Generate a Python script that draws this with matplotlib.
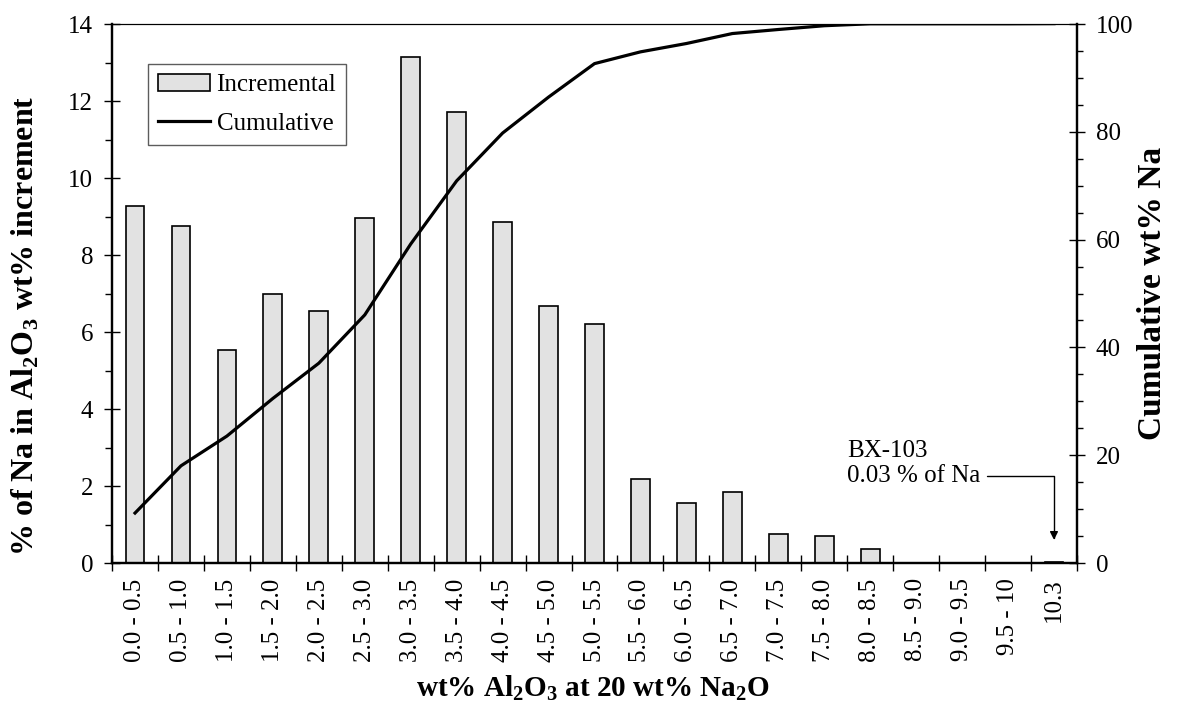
import numpy as np
import matplotlib
matplotlib.use('Agg')
import matplotlib.pyplot as plt
from matplotlib.ticker import MultipleLocator, FixedLocator, NullFormatter

plt.rcParams['font.family'] = ['Liberation Serif', 'DejaVu Serif']
plt.rcParams['mathtext.fontset'] = 'custom'
plt.rcParams['mathtext.rm'] = 'Liberation Serif'
plt.rcParams['mathtext.bf'] = 'Liberation Serif:bold'

# wt% Al2O3 bins and % of Na per bin
bins = ['0.0 - 0.5', '0.5 - 1.0', '1.0 - 1.5', '1.5 - 2.0', '2.0 - 2.5',
        '2.5 - 3.0', '3.0 - 3.5', '3.5 - 4.0', '4.0 - 4.5', '4.5 - 5.0',
        '5.0 - 5.5', '5.5 - 6.0', '6.0 - 6.5', '6.5 - 7.0', '7.0 - 7.5',
        '7.5 - 8.0', '8.0 - 8.5', '8.5 - 9.0', '9.0 - 9.5', '9.5 - 10', '10.3']
incremental = [9.27, 8.76, 5.52, 6.98, 6.54, 8.96, 13.15, 11.72, 8.87, 6.67,
               6.21, 2.18, 1.55, 1.85, 0.75, 0.70, 0.36, 0.0, 0.0, 0.0, 0.03]
cumulative = np.cumsum(incremental)

x = np.arange(len(bins))

fig = plt.figure(figsize=(11.77, 7.08), dpi=100)
ax = fig.add_axes([0.0952, 0.2048, 0.8198, 0.7613])
ax2 = ax.twinx()

bars = ax.bar(x, incremental, width=0.41, color='#e2e2e2', edgecolor='black',
              linewidth=1.2, label='Incremental')
line, = ax2.plot(x, cumulative, color='black', lw=2.3, label='Cumulative')

ax.set_xlim(-0.5, len(bins) - 0.5)
ax.set_ylim(0, 14)
ax2.set_ylim(0, 100)

# x ticks: marks between bins, labels at bin centres
ax.xaxis.set_major_locator(FixedLocator(np.arange(-0.5, len(bins), 1.0)))
ax.xaxis.set_major_formatter(NullFormatter())
ax.xaxis.set_minor_locator(FixedLocator(x))
ax.set_xticklabels(bins, minor=True, rotation=90, fontsize=18)
ax.tick_params(axis='x', which='major', direction='inout', length=11, width=1.0)
ax.tick_params(axis='x', which='minor', length=0, pad=11)

ax.yaxis.set_major_locator(MultipleLocator(2))
ax.yaxis.set_minor_locator(MultipleLocator(1))
ax.tick_params(axis='y', which='major', direction='inout', length=11, width=1.0,
               labelsize=18, pad=8)
ax.tick_params(axis='y', which='minor', direction='out', length=5, width=1.0)

ax2.yaxis.set_major_locator(MultipleLocator(20))
ax2.yaxis.set_minor_locator(MultipleLocator(5))
ax2.tick_params(axis='y', which='major', direction='inout', length=11, width=1.0,
                labelsize=18, pad=8)
ax2.tick_params(axis='y', which='minor', direction='out', length=4.5, width=1.0)

for a in (ax, ax2):
    for s in ('left', 'bottom', 'right'):
        a.spines[s].set_linewidth(1.6)
    a.spines['top'].set_linewidth(0.8)

ax.set_xlabel(r'wt% Al$_\mathbf{2}$O$_\mathbf{3}$ at 20 wt% Na$_\mathbf{2}$O',
              fontsize=21, fontweight='bold', va='center')
ax.xaxis.set_label_coords(0.4985, -0.232)
ax.set_ylabel(r'% of Na in Al$_\mathbf{2}$O$_\mathbf{3}$ wt% increment',
              fontsize=23, fontweight='bold', va='center')
ax.yaxis.set_label_coords(-0.09, 0.44)
ax2.set_ylabel('Cumulative wt% Na', fontsize=24, fontweight='bold',
               va='center', rotation=90)
ax2.yaxis.set_label_coords(1.078, 0.5)

ax.annotate('BX-103\n0.03 % of Na', xy=(20, 0.6), xytext=(18.4, 2.58),
            ha='right', va='center', multialignment='left', fontsize=18,
            arrowprops=dict(arrowstyle='-|>', color='black', lw=1.0,
                            mutation_scale=12, shrinkA=3, shrinkB=0,
                            relpos=(1, 0.25),
                            connectionstyle='angle,angleA=0,angleB=90,rad=0'))

leg = ax2.legend([bars, line], ['Incremental', 'Cumulative'],
                 loc='upper left', bbox_to_anchor=(0.037, 0.926),
                 borderaxespad=0, fontsize=18, frameon=True, fancybox=False,
                 edgecolor='#333333', handlelength=2.1, handletextpad=0.25,
                 labelspacing=0.65, borderpad=0.4)
leg.get_frame().set_linewidth(1.0)

fig.savefig('out.png', dpi=100)
